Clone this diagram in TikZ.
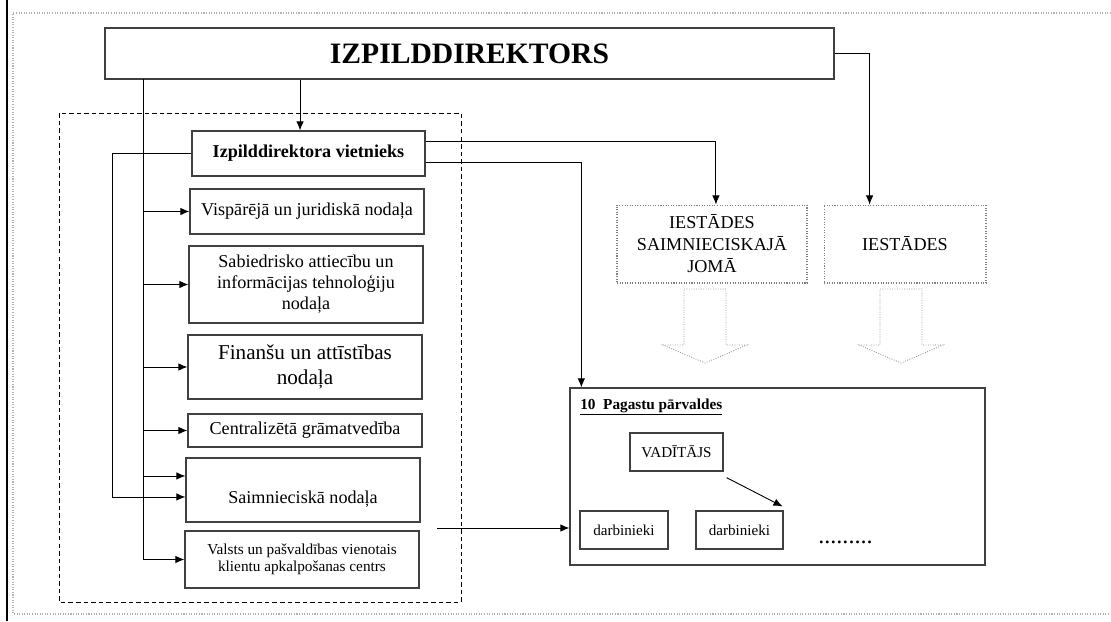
\documentclass[tikz,border=0pt]{standalone}
\usepackage{fontspec}
\setmainfont{Liberation Serif}
\usetikzlibrary{arrows.meta}

\tikzset{
    box/.style={draw=black!75, line width=0.8pt, inner sep=2pt, align=center,
        minimum width=154.9pt, font=\fontsize{12}{13.9}\selectfont},
    dbox/.style={draw=gray, densely dotted, line width=0.7pt, inner sep=2pt, align=center},
    arr/.style={line width=0.6pt, -{Latex[length=6pt,width=5pt]}}
}

\begin{document}
\begin{tikzpicture}[x=0.662pt, y=-0.662pt]
    \useasboundingbox (0,0) rectangle (1111,621);

    % Page frame
    \draw[line width=0.8pt] (7,0) -- (7,621);
    \draw[gray!60, densely dotted, line width=0.7pt] (1111,13) -- (13,13) -- (13,614) -- (1111,614);

    % Dashed group round the departments
    \draw[dash pattern=on 3pt off 2pt, line width=0.6pt] (59,113) rectangle (461,602);

    % Director and deputy
    \node[box, minimum width=482.6pt, minimum height=33.8pt,
        font=\fontsize{19.6}{22}\selectfont\bfseries] (dir) at (469.5,53.5) {IZPILDDIREKTORS};
    \node[box, minimum width=154.2pt, minimum height=29.8pt,
        font=\fontsize{12}{14}\selectfont\bfseries] (viet) at (308.5,153.5) {Izpilddirektora vietnieks};

    % Departments
    \node[box, minimum height=29.8pt] (visp) at (307,211.5) {Vispārējā un juridiskā nodaļa};
    \node[box, minimum height=51pt] (sab) at (306,284.5) {Sabiedrisko attiecību un\\informācijas tehnoloģiju\\nodaļa};
    \node[box, minimum height=42.4pt, font=\fontsize{14}{16.5}\selectfont] (fin) at (305,367) {Finanšu un attīstības\\nodaļa};
    \node[box, minimum height=21.8pt] (cent) at (305,430.5) {Centralizētā grāmatvedība};
    \node[box, minimum height=42.4pt, text height=20pt] (saim) at (303,490) {Saimnieciskā nodaļa};
    \node[box, minimum height=37.7pt, font=\fontsize{10.1}{11.3}\selectfont] (valsts) at (302,559.5) {Valsts un pašvaldības vienotais\\klientu apkalpošanas centrs};

    % Institutions
    \node[dbox, minimum width=125.8pt, minimum height=51.6pt,
        font=\fontsize{12}{14.6}\selectfont] (iest1) at (712,244) {IESTĀDES\\SAIMNIECISKAJĀ\\JOMĀ};
    \node[dbox, minimum width=107.2pt, minimum height=51.6pt,
        font=\fontsize{12}{14.6}\selectfont] (iest2) at (905,244) {IESTĀDES};

    % Hollow arrows below the institutions
    \foreach \cx in {705,901} {
        \draw[gray!80, densely dotted, line width=0.6pt] (\cx-21,289) -- (\cx+21,289) -- (\cx+21,345)
            -- (\cx+42,345) -- (\cx,363) -- (\cx-42,345) -- (\cx-21,345) -- cycle;
    }

    % Parish administrations
    \node[box, minimum width=274.7pt, minimum height=117.2pt] (pag) at (777.5,476.5) {};
    \node[anchor=west, inner sep=0pt, font=\fontsize{10.1}{12}\selectfont\bfseries] (pagt) at (580,407) {\underline{10\ \ Pagastu pārvaldes}};
    \node[box, minimum width=61.6pt, minimum height=25.2pt, font=\fontsize{10}{12}\selectfont] (vad) at (676.5,452) {VADĪTĀJS};
    \node[box, minimum width=58.3pt, minimum height=25.2pt, font=\fontsize{10}{12}\selectfont] (darb1) at (624,530) {darbinieki};
    \node[box, minimum width=57.6pt, minimum height=25.2pt, font=\fontsize{10}{12}\selectfont] (darb2) at (739.5,530) {darbinieki};
    \node[anchor=base west, inner sep=0pt, font=\fontsize{16}{16}\selectfont] (dots) at (818,543.5) {.........};

    % Connectors
    \coordinate (trunk) at (143,79);
    \coordinate (lft) at (112,155);
    \coordinate (vtop) at ([xshift=-5.6pt]viet.north);
    \coordinate (saimin) at ([yshift=9.3pt]saim.west);
    \coordinate (saimout) at (437,528);

    \draw[arr] (dir.south -| vtop) -- (vtop);
    \draw[arr] (trunk) |- (valsts.west);
    \foreach \n in {visp,sab,fin,cent,saimin} {
        \draw[arr] (trunk |- \n.west) -- (\n.west);
    }
    \draw[arr] (viet.west) -- (viet.west -| lft) |- ([yshift=-4.6pt]saim.west);
    \draw[arr] ([yshift=8.3pt]viet.east) -| ([xshift=2.6pt]iest1.north);
    \draw[arr] ([yshift=-5.6pt]viet.east) -| ([xshift=7.9pt]pag.north west);
    \draw[arr] (dir.east) -| ([xshift=30.5pt]iest2.north west);
    \draw[arr] (saimout) -- (saimout -| pag.west);
    \draw[arr] ([shift={(2pt,-4pt)}]vad.south east) -- ([shift={(-0.7pt,2.6pt)}]darb2.north east);

\end{tikzpicture}
\end{document}
